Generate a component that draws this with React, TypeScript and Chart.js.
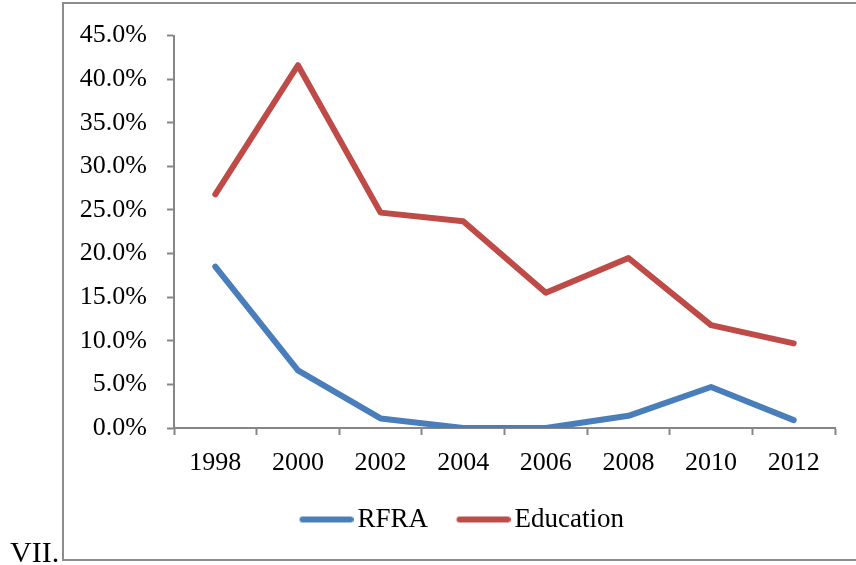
import React, { useEffect, useRef } from "react";
import { Chart, registerables } from "chart.js";

Chart.register(...registerables);

const years = ["1998", "2000", "2002", "2004", "2006", "2008", "2010", "2012"];
const rfra = [18.5, 6.6, 1.1, 0.0, 0.0, 1.4, 4.7, 0.9];
const education = [26.8, 41.6, 24.7, 23.7, 15.5, 19.5, 11.8, 9.7];
const seriesNames = ["RFRA", "Education"];
const seriesColors = ["#4a7ebb", "#be4b48"];

const FONT = "'Liberation Serif', 'Times New Roman', serif";
const AXIS = "#868686";

// legend swatch: a 68px image centred on a 49px box, line sits in its right part
function legendLine(color: string): HTMLCanvasElement {
  const c = document.createElement("canvas");
  c.width = 68;
  c.height = 8;
  const ctx = c.getContext("2d");
  if (ctx) {
    ctx.strokeStyle = color;
    ctx.lineWidth = 6;
    ctx.lineCap = "round";
    ctx.beginPath();
    ctx.moveTo(17, 4);
    ctx.lineTo(65, 4);
    ctx.stroke();
  }
  return c;
}

const shiftLegend = {
  id: "shiftLegend",
  afterLayout(chart: any) {
    const lg = chart.legend;
    if (lg) {
      lg.left += 10;
      lg.right += 10;
    }
  },
};

export default function App() {
  const ref = useRef<HTMLCanvasElement | null>(null);

  useEffect(() => {
    if (!ref.current) return;
    const mkDataset = (i: number, data: number[]) => ({
      label: seriesNames[i],
      data,
      borderColor: seriesColors[i],
      backgroundColor: seriesColors[i],
      borderWidth: 6,
      borderCapStyle: "round" as const,
      borderJoinStyle: "round" as const,
      pointRadius: 0,
      pointHoverRadius: 0,
      pointStyle: legendLine(seriesColors[i]),
      tension: 0,
    });
    const chart = new Chart(ref.current, {
      type: "line",
      data: {
        labels: years,
        datasets: [mkDataset(0, rfra), mkDataset(1, education)],
      },
      options: {
        responsive: false,
        animation: false,
        devicePixelRatio: 1,
        layout: { padding: { left: 64, right: 21, top: 33, bottom: 22 } },
        plugins: {
          tooltip: { enabled: false },
          legend: {
            position: "bottom",
            labels: {
              usePointStyle: true,
              pointStyleWidth: 49,
              padding: 24,
              color: "#000",
              font: { family: FONT, size: 27 },
            },
          },
        },
        scales: {
          x: {
            offset: true,
            afterFit: (s: any) => {
              s.height = 54;
            },
            grid: {
              offset: true,
              drawOnChartArea: false,
              drawTicks: true,
              tickLength: 7,
              tickColor: AXIS,
              tickWidth: 2,
            },
            border: { display: true, color: AXIS, width: 2 },
            ticks: {
              color: "#000",
              padding: 13,
              maxRotation: 0,
              font: { family: FONT, size: 26 },
            },
          },
          y: {
            min: 0,
            max: 45,
            afterFit: (s: any) => {
              s.width = 110;
            },
            grid: {
              drawOnChartArea: false,
              drawTicks: true,
              tickLength: 7,
              tickColor: AXIS,
              tickWidth: 2,
            },
            border: { display: true, color: AXIS, width: 2 },
            ticks: {
              stepSize: 5,
              color: "#000",
              padding: 20,
              font: { family: FONT, size: 26 },
              callback: (v: any) => Number(v).toFixed(1) + "%",
            },
          },
        },
      },
      plugins: [shiftLegend],
    });
    return () => chart.destroy();
  }, []);

  return (
    <div
      style={{
        position: "fixed",
        left: 0,
        top: 0,
        width: 856,
        height: 565,
        overflow: "hidden",
        background: "#fff",
      }}
    >
      <div
        style={{
          position: "absolute",
          left: 62,
          top: 2,
          width: 900,
          height: 559,
          boxSizing: "border-box",
          border: "2px solid #8c8c8c",
        }}
      />
      <canvas
        ref={ref}
        width={856}
        height={565}
        style={{ position: "absolute", left: 0, top: 0, width: 856, height: 565 }}
      />
      <span
        style={{
          position: "absolute",
          left: 10,
          top: 537,
          fontFamily: FONT,
          fontSize: 30,
          lineHeight: "30px",
          color: "#000",
          whiteSpace: "nowrap",
        }}
      >
        VII.
      </span>
    </div>
  );
}
